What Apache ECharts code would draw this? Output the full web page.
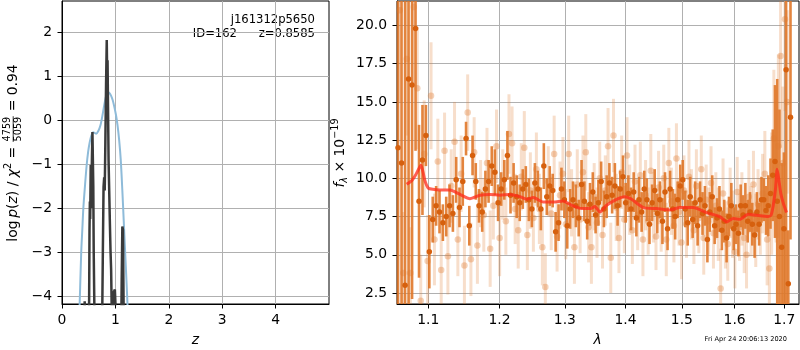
<!DOCTYPE html>
<html><head><meta charset="utf-8">
<script src="https://cdn.jsdelivr.net/npm/echarts@6/dist/echarts.min.js"></script>
<style>html,body{margin:0;padding:0;background:#fff}#c{width:800px;height:350px}</style>
</head><body><div id="c"></div>
<script>
// ---------- left panel: log p(z) ----------
const zTicks = [0, 1, 2, 3, 4];
const logPTicks = [-4, -3, -2, -1, 0, 1, 2];
const pzBlueZ = [0.32,0.34,0.36,0.38,0.40,0.43,0.46,0.49,0.52,0.55,0.58,0.61,0.64,0.68,0.72,0.76,0.80,0.83,0.86,0.89,0.92,0.95,0.98,1.01,1.04,1.07,1.10,1.13,1.16,1.19,1.22,1.25];
const pzBlueLogP = [-4.6,-3.8,-3.0,-2.5,-2.0,-1.5,-1.05,-0.72,-0.50,-0.35,-0.28,-0.29,-0.31,-0.25,-0.12,0.12,0.40,0.56,0.63,0.61,0.55,0.45,0.30,0.12,-0.12,-0.45,-0.90,-1.60,-2.40,-3.20,-4.00,-4.90];
const pzZ = [0.400,0.418,0.425,0.432,0.440,0.500,0.515,0.522,0.528,0.538,0.548,0.560,0.570,0.578,0.586,0.594,0.602,0.610,0.620,0.740,0.765,0.778,0.790,0.800,0.812,0.825,0.838,0.846,0.853,0.862,0.872,0.884,0.896,0.908,0.920,0.932,0.942,0.960,0.972,0.990,1.005,1.015,1.100,1.118,1.130,1.142,1.152,1.165];
const pzLogP = [-6,-4.5,-4.12,-4.5,-6,-6,-2.5,-1.85,-2.25,-1.02,-2.0,-0.9,-0.27,-0.30,-1.5,-3.0,-3.85,-4.6,-6,-6,-3.0,-1.52,-1.3,-1.6,-0.5,0.8,1.82,1.0,1.36,0.3,-0.9,-1.6,-2.3,-2.95,-3.4,-4.4,-6,-6,-3.9,-3.85,-4.3,-6,-6,-3.6,-2.42,-2.5,-4.0,-6];

// ---------- right panel: spectrum ----------
const waveTicks = [1.1, 1.2, 1.3, 1.4, 1.5, 1.6, 1.7];
const fluxTicks = [2.5, 5, 7.5, 10, 12.5, 15, 17.5, 20];
const darkWave = [1.0600,1.0646,1.0692,1.0738,1.0784,1.0830,1.0876,1.0922,1.0968,1.1014,1.1060,1.1106,1.1152,1.1198,1.1244,1.1290,1.1336,1.1382,1.1428,1.1474,1.1520,1.1566,1.1612,1.1658,1.1704,1.1750,1.1796,1.1842,1.1888,1.1934,1.1980,1.2026,1.2072,1.2118,1.2164,1.2210,1.2256,1.2302,1.2348,1.2394,1.2440,1.2486,1.2532,1.2578,1.2624,1.2670,1.2716,1.2762,1.2808,1.2854,1.2900,1.2946,1.2992,1.3038,1.3084,1.3130,1.3176,1.3222,1.3268,1.3314,1.3360,1.3406,1.3452,1.3498,1.3544,1.3590,1.3636,1.3682,1.3728,1.3774,1.3820,1.3866,1.3912,1.3958,1.4004,1.4050,1.4096,1.4142,1.4188,1.4234,1.4280,1.4326,1.4372,1.4418,1.4464,1.4510,1.4556,1.4602,1.4648,1.4694,1.4740,1.4786,1.4832,1.4878,1.4924,1.4970,1.5016,1.5062,1.5108,1.5154,1.5200,1.5246,1.5292,1.5338,1.5384,1.5430,1.5476,1.5522,1.5568,1.5614,1.5660,1.5706,1.5752,1.5798,1.5844,1.5890,1.5936,1.5982,1.6028,1.6074,1.6120,1.6166,1.6212,1.6258,1.6304,1.6350,1.6396,1.6442,1.6488,1.6534,1.6580,1.6626,1.6672,1.6718,1.6764,1.6810,1.6856,1.6902,1.6948,1.6994,1.7040,1.7086,1.7132];
const darkFlux = [12.0,11.0,3.0,16.5,16.1,19.8,8.5,11.2,12.8,5.2,7.3,8.2,7.8,7.1,7.5,8.2,7.7,9.9,8.1,9.8,12.6,6.9,11.5,9.8,8.2,7.8,9.3,9.8,10.8,10.4,8.4,9.3,9.9,11.5,8.9,9.7,8.8,8.4,9.3,9.6,8.6,8.0,9.7,9.3,8.0,10.8,8.8,9.5,9.2,6.5,7.1,9.3,8.6,6.9,8.0,8.6,8.2,7.4,9.6,8.5,7.2,8.3,9.1,7.6,8.4,9.8,8.0,8.8,9.7,8.9,9.5,8.2,9.3,10.1,8.4,9.0,8.0,9.1,7.4,8.6,7.8,9.3,8.6,7.0,8.4,9.2,7.7,8.6,7.2,9.1,6.7,9.3,8.0,7.5,8.6,9.5,9.9,8.0,7.1,8.8,7.3,8.4,6.9,8.6,7.7,8.2,6.0,7.8,8.8,6.9,7.4,8.0,6.6,7.2,6.1,7.5,8.2,6.7,7.0,6.4,8.2,7.6,8.2,7.2,7.8,7.0,6.3,7.8,7.0,8.6,8.6,7.9,8.2,9.0,10.2,11.1,8.5,7.5,5.5,6.7,17.1,3.1,14.0];
const darkErr = [30,30,30,30,14,8,5,3.6,2.0,2.4,1.5,1.3,1.4,1.2,1.3,1.4,1.2,1.5,1.3,1.6,1.1,1.3,1.3,1.2,1.1,1.3,1.2,1.4,1.3,1.5,1.2,1.1,1.3,1.6,1.2,1.3,1.4,1.2,1.3,1.2,1.4,1.2,1.3,1.2,1.4,1.5,1.2,1.3,1.1,1.3,1.2,1.4,1.2,1.5,1.3,1.2,1.4,1.2,1.6,1.3,1.2,1.4,1.3,1.2,1.5,1.3,1.2,1.4,1.3,1.2,1.5,1.3,1.2,1.4,1.3,1.2,1.4,1.3,1.2,1.5,1.3,1.2,1.4,1.3,1.2,1.4,1.3,1.2,1.5,1.3,1.4,1.2,1.3,1.5,1.2,1.4,1.3,1.2,1.5,1.3,1.2,1.4,1.3,1.2,1.4,1.3,1.5,1.3,1.4,1.2,1.3,1.5,1.3,1.4,1.6,1.3,1.5,1.4,1.3,1.5,1.4,1.3,1.5,1.4,1.3,1.4,1.5,1.3,1.4,1.5,1.4,1.6,2.0,2.3,3.0,5.0,8.0,7.0,5.5,5.0,20,3.5,8.0];
const lightWave = [1.0623,1.0669,1.0715,1.0761,1.0807,1.0853,1.0899,1.0945,1.0991,1.1037,1.1083,1.1129,1.1175,1.1221,1.1267,1.1313,1.1359,1.1405,1.1451,1.1497,1.1543,1.1589,1.1635,1.1681,1.1727,1.1773,1.1819,1.1865,1.1911,1.1957,1.2003,1.2049,1.2095,1.2141,1.2187,1.2233,1.2279,1.2325,1.2371,1.2417,1.2463,1.2509,1.2555,1.2601,1.2647,1.2693,1.2739,1.2785,1.2831,1.2877,1.2923,1.2969,1.3015,1.3061,1.3107,1.3153,1.3199,1.3245,1.3291,1.3337,1.3383,1.3429,1.3475,1.3521,1.3567,1.3613,1.3659,1.3705,1.3751,1.3797,1.3843,1.3889,1.3935,1.3981,1.4027,1.4073,1.4119,1.4165,1.4211,1.4257,1.4303,1.4349,1.4395,1.4441,1.4487,1.4533,1.4579,1.4625,1.4671,1.4717,1.4763,1.4809,1.4855,1.4901,1.4947,1.4993,1.5039,1.5085,1.5131,1.5177,1.5223,1.5269,1.5315,1.5361,1.5407,1.5453,1.5499,1.5545,1.5591,1.5637,1.5683,1.5729,1.5775,1.5821,1.5867,1.5913,1.5959,1.6005,1.6051,1.6097,1.6143,1.6189,1.6235,1.6281,1.6327,1.6373,1.6419,1.6465,1.6511,1.6557,1.6603,1.6649,1.6695,1.6741,1.6787,1.6833,1.6879,1.6925,1.6971,1.7017,1.7063];
const lightFlux = [21.0,3.8,17.8,3.8,21.2,15.9,2.0,11.6,4.6,15.4,6.0,11.1,4.0,11.8,4.9,9.5,12.4,6.0,10.3,4.3,14.3,4.7,11.7,5.6,9.0,7.6,11.0,5.4,8.2,12.1,6.1,9.6,7.2,12.9,12.3,8.0,6.6,10.1,12.0,6.3,9.2,7.4,10.6,8.0,5.5,2.9,9.8,7.7,11.6,6.2,8.9,10.3,7.0,11.6,8.4,5.5,9.6,7.3,10.4,11.7,6.8,5.5,8.8,7.1,10.0,6.3,9.2,12.1,4.8,12.8,8.1,6.1,10.4,7.3,11.5,8.6,6.6,9.8,7.6,10.2,6.0,8.9,7.2,10.5,8.1,6.2,9.4,7.5,10.0,6.0,11.0,8.5,6.9,11.3,7.8,5.8,9.2,7.0,10.1,8.3,6.6,9.5,7.4,10.6,6.1,8.6,7.2,9.7,6.4,8.2,7.0,2.8,9.0,6.3,5.7,8.4,7.0,5.2,9.1,6.8,8.0,6.1,5.0,8.8,7.2,9.6,6.6,8.3,7.5,9.0,10.3,6.0,4.1,9.0,12.6,10.8,12.1,18.0,11.0,20.4,15.0];
const lightErr = [6,4,5,3,5,4,3,3.5,3,3.5,3,2.8,3,2.5,2.5,2.4,2.6,2.4,2.5,2.6,2.5,2.4,2.3,2.5,2.2,2.4,2.3,2.5,2.2,2.4,2.5,2.3,2.2,2.6,2.4,2.3,2.5,2.2,2.4,2.3,2.5,2.2,2.4,2.3,2.5,2.2,2.3,2.4,2.5,2.3,2.2,2.4,2.3,2.5,2.2,2.4,2.3,2.2,2.4,2.5,2.3,2.4,2.2,2.3,2.4,2.2,2.3,2.5,2.3,2.4,2.2,2.3,2.4,2.2,2.5,2.3,2.2,2.4,2.3,2.2,2.4,2.3,2.2,2.4,2.3,2.2,2.4,2.3,2.2,2.4,2.3,2.2,2.4,2.3,2.2,2.4,2.3,2.2,2.4,2.3,2.2,2.4,2.3,2.2,2.4,2.3,2.2,2.4,2.3,2.2,2.4,2.6,2.3,2.2,2.4,2.3,2.2,2.4,2.3,2.2,2.4,2.3,2.2,2.4,2.3,2.2,2.4,2.3,2.5,2.6,2.8,3.0,3.5,4.0,4.5,5.0,6.0,6.0,5.0,6.0,6.0];
const modelWave = [1.0713,1.0780,1.0823,1.0860,1.0902,1.0930,1.0956,1.1000,1.1060,1.1159,1.1296,1.1435,1.1575,1.1718,1.1862,1.2008,1.2156,1.2305,1.2406,1.2507,1.2660,1.2816,1.2974,1.3108,1.3269,1.3404,1.3486,1.3569,1.3681,1.3849,1.3990,1.4105,1.4307,1.4543,1.4782,1.4964,1.5209,1.5460,1.5714,1.5843,1.5971,1.6103,1.6267,1.6435,1.6670,1.6730,1.6772,1.6820,1.6854,1.6890,1.6930,1.6978,1.7049];
const modelFlux = [9.61,9.85,10.15,10.5,10.85,10.4,9.82,9.36,9.28,9.24,9.24,8.95,8.67,8.89,8.95,8.89,8.95,8.80,8.63,8.74,8.45,8.45,8.52,8.24,8.02,8.02,8.15,7.80,8.24,8.63,8.80,8.63,8.09,8.02,7.93,8.09,8.09,7.76,7.50,7.15,7.37,7.32,7.65,7.58,7.50,7.60,8.19,9.3,10.59,9.9,9.0,8.41,7.76];

const objName = 'j161312p5650';
const objId = 'ID=162';
const objZ = 'z=0.8585';
const stamp = 'Fri Apr 24 20:06:13 2020';

// ---------- helpers ----------
const FONT = 'DejaVu Sans';
const ctx = document.createElement('canvas').getContext('2d');
function measure(t, size, italic) {
  ctx.font = (italic ? 'italic ' : '') + size + 'px "' + FONT + '"';
  return ctx.measureText(t).width;
}
function txt(t, x, y, size, italic, align) {
  return {type: 'text', x: x, y: y, silent: true, style: {
    text: t, fontSize: size, fontFamily: FONT, fontStyle: italic ? 'italic' : 'normal',
    fill: '#000', align: align, verticalAlign: 'middle', textAlign: align, textVerticalAlign: 'middle'}};
}
function mathLabel(pieces, cx, cy, base) {
  const items = pieces.map(p => {
    const size = p.s || base;
    let w;
    if (p.frac) w = Math.max(measure(p.frac[0], size, false), measure(p.frac[1], size, false)) + 2;
    else w = measure(p.t, size, p.i);
    return {p: p, size: size, w: w};
  });
  const total = items.reduce((a, b) => a + b.w, 0);
  let x = -total / 2;
  const kids = [];
  items.forEach(it => {
    const p = it.p;
    if (p.frac) {
      kids.push(txt(p.frac[0], x + it.w / 2, -5.6, it.size, false, 'center'));
      kids.push(txt(p.frac[1], x + it.w / 2, 5.4, it.size, false, 'center'));
      kids.push({type: 'line', silent: true, shape: {x1: x + 0.5, y1: -0.3, x2: x + it.w - 0.5, y2: -0.3}, style: {stroke: '#000', lineWidth: 0.8}});
    } else {
      kids.push(txt(p.t, x, p.dy || 0, it.size, p.i, 'left'));
    }
    x += it.w;
  });
  return {type: 'group', x: cx, y: cy, rotation: Math.PI / 2, children: kids};
}
function errRender(color, width, opacity) {
  return function (params, api) {
    const x = api.value(0), y = api.value(1), e = api.value(2);
    const p1 = api.coord([x, y - e]);
    const p2 = api.coord([x, y + e]);
    const cs = params.coordSys;
    const top = cs.y, bot = cs.y + cs.height;
    const y1 = Math.min(Math.max(p1[1], top), bot);
    const y2 = Math.min(Math.max(p2[1], top), bot);
    return {type: 'line', shape: {x1: p1[0], y1: y1, x2: p2[0], y2: y2},
      style: {stroke: color, lineWidth: width, opacity: opacity}};
  };
}
const minus = v => String(v).replace('-', '\u2212');

const axisLabelBase = {fontFamily: FONT, fontSize: 13.9, color: '#000', margin: 9};
const tickBase = {length: 4.5, lineStyle: {color: '#000', width: 1}};
const splitBase = {show: true, lineStyle: {color: '#b0b0b0', width: 1}};
const lineBase = {show: true, onZero: false, lineStyle: {color: '#000', width: 1}};

const chart = echarts.init(document.getElementById('c'), null, {renderer: 'canvas'});
chart.setOption({
  animation: false,
  backgroundColor: '#fff',
  grid: [
    {left: 62, top: 1, width: 267, height: 303, show: true, borderColor: '#000', borderWidth: 1, containLabel: false, outerBoundsMode: 'none'},
    {left: 397, top: 1, width: 402, height: 303, show: true, borderColor: '#000', borderWidth: 1, containLabel: false, outerBoundsMode: 'none'}
  ],
  xAxis: [
    {gridIndex: 0, type: 'value', min: 0, max: 5, axisLine: lineBase,
     axisTick: Object.assign({customValues: zTicks}, tickBase),
     axisLabel: Object.assign({customValues: zTicks}, axisLabelBase),
     splitLine: splitBase},
    {gridIndex: 1, type: 'log', logBase: 10, min: 1.0587, max: 1.7311, axisLine: lineBase,
     axisTick: Object.assign({customValues: waveTicks}, tickBase),
     axisLabel: Object.assign({customValues: waveTicks, formatter: v => Number(v).toFixed(1)}, axisLabelBase),
     splitLine: splitBase}
  ],
  yAxis: [
    {gridIndex: 0, type: 'value', min: -4.18, max: 2.705, axisLine: lineBase,
     axisTick: Object.assign({customValues: logPTicks}, tickBase),
     axisLabel: Object.assign({customValues: logPTicks, formatter: minus}, axisLabelBase, {margin: 10}),
     splitLine: splitBase},
    {gridIndex: 1, type: 'value', min: 1.78, max: 21.6, axisLine: lineBase,
     axisTick: Object.assign({customValues: fluxTicks}, tickBase),
     axisLabel: Object.assign({customValues: fluxTicks, formatter: v => Number(v).toFixed(1)}, axisLabelBase, {margin: 10}),
     splitLine: splitBase}
  ],
  series: [
    {type: 'line', xAxisIndex: 0, yAxisIndex: 0, data: pzBlueZ.map((z, i) => [z, pzBlueLogP[i]]),
     smooth: 0.3, showSymbol: false, clip: true, lineStyle: {color: '#8ebbd9', width: 2}},
    {type: 'line', xAxisIndex: 0, yAxisIndex: 0, data: pzZ.map((z, i) => [z, pzLogP[i]]),
     showSymbol: false, clip: true, lineStyle: {color: '#3a3a3a', width: 2.5}},
    {type: 'custom', xAxisIndex: 1, yAxisIndex: 1, data: lightWave.map((w, i) => [w, lightFlux[i], lightErr[i]]),
     encode: {x: 0, y: 1}, renderItem: errRender('#e07b30', 3, 0.25), silent: true},
    {type: 'scatter', xAxisIndex: 1, yAxisIndex: 1, data: lightWave.map((w, i) => [w, lightFlux[i]]),
     symbolSize: 6.5, clip: true, itemStyle: {color: '#e07b30', opacity: 0.35}, silent: true},
    {type: 'custom', xAxisIndex: 1, yAxisIndex: 1, data: darkWave.map((w, i) => [w, darkFlux[i], darkErr[i]]),
     encode: {x: 0, y: 1}, renderItem: errRender('#e0782a', 2.6, 0.9), silent: true},
    {type: 'scatter', xAxisIndex: 1, yAxisIndex: 1, data: darkWave.map((w, i) => [w, darkFlux[i]]),
     symbolSize: 5.5, clip: true, itemStyle: {color: '#d6600e', opacity: 1}, silent: true},
    {type: 'line', xAxisIndex: 1, yAxisIndex: 1, data: modelWave.map((w, i) => [w, modelFlux[i]]),
     smooth: 0.2, showSymbol: false, clip: true, lineStyle: {color: '#ff2a1a', width: 3, opacity: 0.75}}
  ],
  graphic: [
    txt(objName, 315, 20, 11.6, false, 'right'),
    txt(objZ, 315, 34, 11.6, false, 'right'),
    txt(objId, 237, 34, 11.6, false, 'right'),
    txt('z', 195.5, 340, 13.9, true, 'center'),
    txt('\u03bb', 597.5, 340, 13.9, true, 'center'),
    txt(stamp, 787, 339, 6.6, false, 'right'),
    mathLabel([
      {t: 'log'}, {t: '\u2009'}, {t: 'p', i: true}, {t: '('}, {t: 'z', i: true}, {t: ') / '},
      {t: '\u03c7', i: true}, {t: '2', s: 9.7, dy: -5}, {t: ' = '},
      {frac: ['4759', '5059'], s: 9.7}, {t: ' = 0.94'}
    ], 13.5, 153, 13.9),
    mathLabel([
      {t: 'f', i: true}, {t: '\u03bb', i: true, s: 9.7, dy: 3.5}, {t: ' \u00d7 10'},
      {t: '\u221219', s: 9.7, dy: -5}
    ], 340.5, 153, 13.9)
  ]
});
</script>
</body></html>
